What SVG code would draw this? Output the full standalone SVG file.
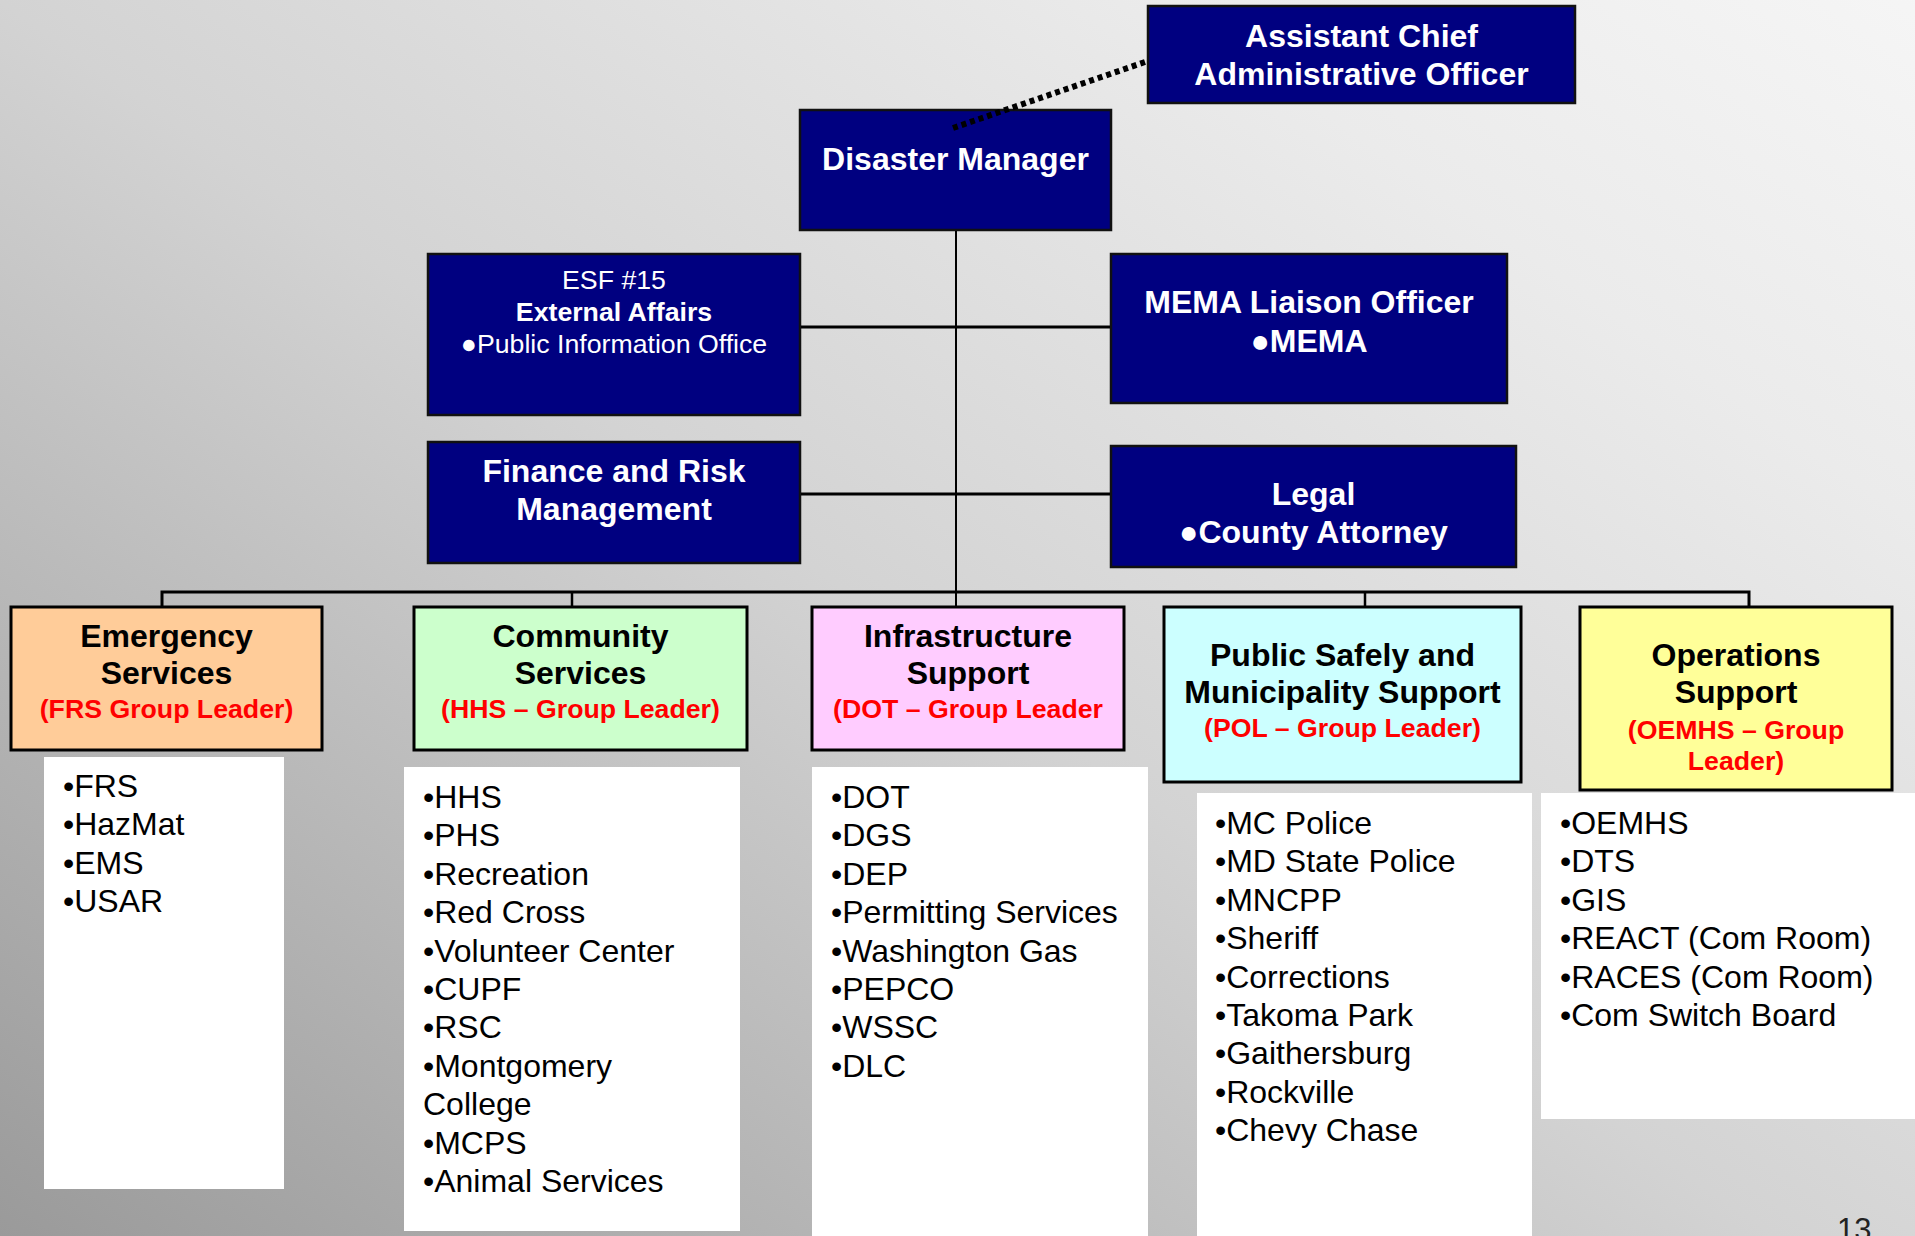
<svg xmlns="http://www.w3.org/2000/svg" width="1915" height="1236" viewBox="0 0 1915 1236">
<defs>
<linearGradient id="bg" gradientUnits="userSpaceOnUse" x1="0" y1="1236" x2="1245" y2="-554">
<stop offset="0" stop-color="#9a9a9a"/>
<stop offset="0.465" stop-color="#d3d3d3"/>
<stop offset="0.77" stop-color="#ebebeb"/>
<stop offset="1" stop-color="#f7f7f7"/>
</linearGradient>
<style>
text{font-family:"Liberation Sans",Arial,sans-serif;}
.nv{fill:#000080;stroke:#111;stroke-width:2.5;}
.grp{stroke:#000;stroke-width:3;}
.lst{fill:#fff;}
.wt{fill:#fff;font-weight:bold;font-size:32px;text-anchor:middle;}
.ws{fill:#fff;font-size:26.7px;text-anchor:middle;}
.wsb{fill:#fff;font-size:26.7px;font-weight:bold;text-anchor:middle;}
.bt{fill:#000;font-weight:bold;font-size:32px;text-anchor:middle;}
.rt{fill:#ff0000;font-weight:bold;font-size:26.7px;text-anchor:middle;}
.li{fill:#000;font-size:32px;}
.ln{stroke:#000;fill:none;}
</style>
</defs>
<rect x="0" y="0" width="1915" height="1236" fill="url(#bg)"/>

<g id="assistant-chief">
<rect class="nv" x="1148" y="6" width="427" height="97"/>
<text class="wt" x="1361.5" y="47">Assistant Chief</text>
<text class="wt" x="1361.5" y="85">Administrative Officer</text>
</g>

<g id="disaster-manager">
<rect class="nv" x="800" y="110" width="311" height="120"/>
<text class="wt" x="955.5" y="170">Disaster Manager</text>
</g>

<g id="esf15">
<rect class="nv" x="428" y="254" width="372" height="161"/>
<text class="ws" x="614" y="289">ESF #15</text>
<text class="wsb" x="614" y="321">External Affairs</text>
<text class="ws" x="614" y="353">●Public Information Office</text>
</g>

<g id="mema">
<rect class="nv" x="1111" y="254" width="396" height="149"/>
<text class="wt" x="1309" y="313">MEMA Liaison Officer</text>
<text class="wt" x="1309" y="352">●MEMA</text>
</g>

<g id="finance">
<rect class="nv" x="428" y="442" width="372" height="121"/>
<text class="wt" x="614" y="482">Finance and Risk</text>
<text class="wt" x="614" y="520">Management</text>
</g>

<g id="legal">
<rect class="nv" x="1111" y="446" width="405" height="121"/>
<text class="wt" x="1313.5" y="505">Legal</text>
<text class="wt" x="1313.5" y="543">●County Attorney</text>
</g>

<g id="emergency-services">
<rect class="grp" x="11" y="607" width="311" height="143" fill="#ffcc99"/>
<text class="bt" x="166.5" y="647">Emergency</text>
<text class="bt" x="166.5" y="684">Services</text>
<text class="rt" x="166.5" y="718">(FRS Group Leader)</text>
<rect class="lst" x="44" y="757" width="240" height="432"/>
<text class="li"><tspan x="63" y="797">•FRS</tspan><tspan x="63" y="835.4">•HazMat</tspan><tspan x="63" y="873.8">•EMS</tspan><tspan x="63" y="912.2">•USAR</tspan></text>
</g>

<g id="community-services">
<rect class="grp" x="414" y="607" width="333" height="143" fill="#ccffcc"/>
<text class="bt" x="580.5" y="647">Community</text>
<text class="bt" x="580.5" y="684">Services</text>
<text class="rt" x="580.5" y="718">(HHS – Group Leader)</text>
<rect class="lst" x="404" y="767" width="336" height="464"/>
<text class="li"><tspan x="423" y="808">•HHS</tspan><tspan x="423" y="846.4">•PHS</tspan><tspan x="423" y="884.8">•Recreation</tspan><tspan x="423" y="923.2">•Red Cross</tspan><tspan x="423" y="961.6">•Volunteer Center</tspan><tspan x="423" y="1000">•CUPF</tspan><tspan x="423" y="1038.4">•RSC</tspan><tspan x="423" y="1076.8">•Montgomery</tspan><tspan x="423" y="1115.2">College</tspan><tspan x="423" y="1153.6">•MCPS</tspan><tspan x="423" y="1192">•Animal Services</tspan></text>
</g>

<g id="infrastructure-support">
<rect class="grp" x="812" y="607" width="312" height="143" fill="#ffccff"/>
<text class="bt" x="968" y="647">Infrastructure</text>
<text class="bt" x="968" y="684">Support</text>
<text class="rt" x="968" y="718">(DOT – Group Leader</text>
<rect class="lst" x="812" y="767" width="336" height="469"/>
<text class="li"><tspan x="831" y="808">•DOT</tspan><tspan x="831" y="846.4">•DGS</tspan><tspan x="831" y="884.8">•DEP</tspan><tspan x="831" y="923.2">•Permitting Services</tspan><tspan x="831" y="961.6">•Washington Gas</tspan><tspan x="831" y="1000">•PEPCO</tspan><tspan x="831" y="1038.4">•WSSC</tspan><tspan x="831" y="1076.8">•DLC</tspan></text>
</g>

<g id="public-safety">
<rect class="grp" x="1164" y="607" width="357" height="175" fill="#ccffff"/>
<text class="bt" x="1342.5" y="666">Public Safely and</text>
<text class="bt" x="1342.5" y="703">Municipality Support</text>
<text class="rt" x="1342.5" y="737">(POL – Group Leader)</text>
<rect class="lst" x="1197" y="793" width="335" height="443"/>
<text class="li"><tspan x="1215" y="834">•MC Police</tspan><tspan x="1215" y="872.4">•MD State Police</tspan><tspan x="1215" y="910.8">•MNCPP</tspan><tspan x="1215" y="949.2">•Sheriff</tspan><tspan x="1215" y="987.6">•Corrections</tspan><tspan x="1215" y="1026">•Takoma Park</tspan><tspan x="1215" y="1064.4">•Gaithersburg</tspan><tspan x="1215" y="1102.8">•Rockville</tspan><tspan x="1215" y="1141.2">•Chevy Chase</tspan></text>
</g>

<g id="operations-support">
<rect class="grp" x="1580" y="607" width="312" height="183" fill="#ffff99"/>
<text class="bt" x="1736" y="666">Operations</text>
<text class="bt" x="1736" y="703">Support</text>
<text class="rt" x="1736" y="739">(OEMHS – Group</text>
<text class="rt" x="1736" y="770">Leader)</text>
<rect class="lst" x="1541" y="793" width="374" height="326"/>
<text class="li"><tspan x="1560" y="834">•OEMHS</tspan><tspan x="1560" y="872.4">•DTS</tspan><tspan x="1560" y="910.8">•GIS</tspan><tspan x="1560" y="949.2">•REACT (Com Room)</tspan><tspan x="1560" y="987.6">•RACES (Com Room)</tspan><tspan x="1560" y="1026">•Com Switch Board</tspan></text>
</g>

<g id="connectors">
<line class="ln" x1="953" y1="128" x2="1148" y2="61" stroke-width="6" stroke-dasharray="5 4"/>
<line class="ln" x1="956" y1="231" x2="956" y2="606" stroke-width="2"/>
<line class="ln" x1="801" y1="327" x2="1110" y2="327" stroke-width="3"/>
<line class="ln" x1="801" y1="494" x2="1110" y2="494" stroke-width="3"/>
<polyline class="ln" points="162,606 162,592 1749,592 1749,606" stroke-width="3"/>
<line class="ln" x1="572" y1="592" x2="572" y2="606" stroke-width="2.5"/>
<line class="ln" x1="1365" y1="592" x2="1365" y2="606" stroke-width="2.5"/>
</g>

<text x="1837" y="1240" font-size="31" fill="#222">13</text>
</svg>
